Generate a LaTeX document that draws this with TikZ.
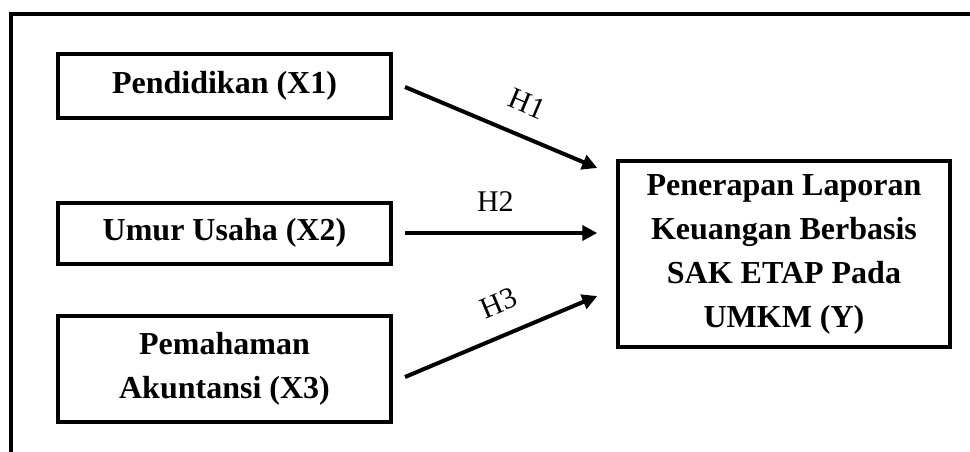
\documentclass[tikz,border=0pt]{standalone}
\usepackage{fontspec}
\setmainfont{Liberation Serif}
\usetikzlibrary{arrows.meta,calc}
\begin{document}
\begin{tikzpicture}[x=1pt,y=-1pt,
  box/.style={draw=black,line width=4pt,align=center,inner sep=0pt,
    font=\fontsize{32}{44}\selectfont\bfseries},
  arr/.style={line width=4pt,-{Triangle[length=15pt,width=15pt]}},
  hlab/.style={font=\fontsize{30}{34}\selectfont,inner sep=0pt,sloped,above=20pt}]
\useasboundingbox (0,0) rectangle (970,452);
\draw[line width=4pt] (11,460) coordinate (fa) -- (11,14) -- (980,14) coordinate (fb);
\node[box,minimum width=333pt,minimum height=64pt] (b1) at (224.5,86) {Pendidikan (X1)};
\node[box,minimum width=333pt,minimum height=61pt] (b2) at (224.5,233) {Umur Usaha (X2)};
\node[box,minimum width=333pt,minimum height=106pt] (b3) at (224.5,369) {Pemahaman\\Akuntansi (X3)};
\node[box,minimum width=331.5pt,minimum height=185.5pt] (y) at (784,254)
  {\raisebox{-3pt}{\parbox{320pt}{\centering Penerapan Laporan\\Keuangan Berbasis\\SAK ETAP Pada\\UMKM (Y)}}};
\draw[arr] ($(b1.east)+(12,1)$) -- node[hlab,pos=0.57]{H1} ($(y.west)+(-19,-86)$);
\draw[arr] ($(b2.east)+(12,0)$) -- node[hlab,pos=0.47]{H2} ($(y.west)+(-19,-21)$);
\draw[arr] ($(b3.east)+(12,8)$) -- node[hlab,pos=0.55]{H3} ($(y.west)+(-19,42)$);
\end{tikzpicture}
\end{document}
